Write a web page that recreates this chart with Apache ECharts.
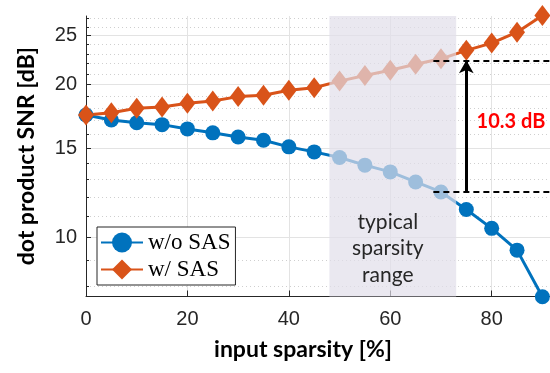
<!DOCTYPE html>
<html>
<head>
<meta charset="utf-8">
<script src="https://cdn.jsdelivr.net/npm/echarts@6/dist/echarts.min.js"></script>
<style>
  html, body { margin: 0; padding: 0; background: #fff; }
  #chart { width: 550px; height: 373px; }
</style>
</head>
<body>
<div id="chart"></div>
<script>
// input sparsity [%]
const sparsity = [0, 5, 10, 15, 20, 25, 30, 35, 40, 45, 50, 55, 60, 65, 70, 75, 80, 85, 90];
// dot product SNR [dB]
const snrWithoutSas = [17.42, 17.03, 16.82, 16.68, 16.36, 16.07, 15.77, 15.54, 15.08, 14.74,
  14.37, 13.88, 13.46, 12.86, 12.29, 11.35, 10.42, 9.44, 7.64];
const snrWithSas = [17.42, 17.6, 17.96, 18.07, 18.37, 18.57, 18.94, 19.05, 19.49, 19.72,
  20.32, 20.85, 21.34, 21.93, 22.48, 23.36, 24.14, 25.37, 27.37];

const xTicks = [0, 20, 40, 60, 80];
const yTicks = [10, 15, 20, 25];
const yMinorTicks = [8, 9, 11, 12, 13, 14, 16, 17, 18, 19, 21, 22, 23, 24, 26, 27];
const yRange = [7.65, 27.3];
const xRange = [0, 91.5];

const typicalRange = [48, 73];
const gapX = 75;
const gapLineStart = 68.5;
const gapTop = 22.33;
const gapBottom = 12.29;
const gapLabel = "10.3 dB";
const gapLabelAt = [83.8, 16.93];

const lg = Math.log10;
const axisColor = "#262626";

const chart = echarts.init(document.getElementById("chart"), null, { renderer: "canvas" });

// shaded "typical sparsity range", drawn over the lines so they look faded
function renderRange(params, api) {
  const p0 = api.coord([api.value(0), lg(yRange[1])]);
  const p1 = api.coord([api.value(1), lg(yRange[0])]);
  return {
    type: "group",
    children: [
      {
        type: "rect",
        shape: { x: p0[0], y: p0[1], width: p1[0] - p0[0], height: p1[1] - p0[1] },
        style: { fill: "rgba(225,222,234,0.7)" },
      },
      {
        type: "text",
        style: {
          text: "typical\nsparsity\nrange",
          x: (p0[0] + p1[0]) / 2 - 5,
          y: p1[1] - 8,
          align: "center",
          verticalAlign: "bottom",
          font: "21px Lato",
          lineHeight: 26.7,
          fill: axisColor,
        },
      },
    ],
  };
}

const option = {
  animation: false,
  backgroundColor: "#fff",
  grid: { left: 86, right: 0, top: 16, bottom: 76.5 },
  legend: {
    orient: "vertical",
    left: 97,
    top: 227,
    data: ["w/o SAS", "w/ SAS"],
    selectedMode: false,
    itemWidth: 42,
    itemHeight: 25,
    itemGap: 2,
    padding: [3, 5, 3, 3],
    borderColor: axisColor,
    borderWidth: 1,
    backgroundColor: "#fff",
    textStyle: { fontFamily: "Liberation Serif", fontSize: 23, color: "#000", lineHeight: 25 },
  },
  xAxis: {
    type: "value",
    min: xRange[0],
    max: xRange[1],
    name: "input sparsity [%]",
    nameLocation: "middle",
    nameGap: 42,
    nameTextStyle: {
      fontFamily: "Lato", fontWeight: "bold", fontSize: 23, color: "#000",
      padding: [0, 30, 0, 0],
    },
    axisLine: { lineStyle: { color: axisColor, width: 1 } },
    axisTick: { inside: true, length: 6, customValues: xTicks, lineStyle: { color: axisColor } },
    axisLabel: {
      customValues: xTicks, margin: 13,
      fontFamily: "Liberation Sans", fontSize: 20, color: axisColor,
    },
    splitLine: { show: true, lineStyle: { color: "#e3e3e3", width: 1 } },
  },
  yAxis: [
    {
      type: "value",
      min: lg(yRange[0]),
      max: lg(yRange[1]),
      name: "dot product SNR [dB]",
      nameLocation: "middle",
      nameGap: 48,
      nameTextStyle: { fontFamily: "Lato", fontWeight: "bold", fontSize: 23, color: "#000" },
      axisLine: { show: true, lineStyle: { color: axisColor, width: 1 } },
      axisTick: { inside: true, length: 5, customValues: yTicks.map(lg), lineStyle: { color: axisColor } },
      axisLabel: {
        customValues: yTicks.map(lg), margin: 9,
        formatter: (v) => String(Math.round(Math.pow(10, v))),
        fontFamily: "Liberation Sans", fontSize: 20, color: axisColor,
      },
      splitLine: { show: true, lineStyle: { color: "#e3e3e3", width: 1 } },
    },
    {
      type: "value",
      min: lg(yRange[0]),
      max: lg(yRange[1]),
      position: "left",
      axisLine: { show: false },
      axisTick: { show: true, inside: true, length: 3, customValues: yMinorTicks.map(lg), lineStyle: { color: axisColor } },
      axisLabel: { show: false },
      splitLine: { show: true, lineStyle: { color: "#cfcfcf", width: 1, type: [1, 3] } },
    },
  ],
  series: [
    {
      name: "w/o SAS",
      type: "line",
      z: 2,
      data: sparsity.map((x, i) => [x, lg(snrWithoutSas[i])]),
      symbol: "circle",
      symbolSize: 15,
      color: "#0072BD",
      lineStyle: { width: 3, color: "#0072BD" },
      itemStyle: { color: "#0072BD" },
      clip: false,
    },
    {
      name: "w/ SAS",
      type: "line",
      z: 2,
      data: sparsity.map((x, i) => [x, lg(snrWithSas[i])]),
      symbol: "diamond",
      symbolSize: [16, 21],
      color: "#D95319",
      lineStyle: { width: 3, color: "#D95319" },
      itemStyle: { color: "#D95319" },
      clip: false,
      markLine: {
        z: 5,
        silent: true,
        symbol: "none",
        label: { show: false },
        data: [
          [
            { coord: [gapLineStart, lg(gapTop)], lineStyle: { color: "#000", width: 2, type: [6, 4] } },
            { coord: [xRange[1], lg(gapTop)] },
          ],
          [
            { coord: [gapLineStart, lg(gapBottom)], lineStyle: { color: "#000", width: 2, type: [6, 4] } },
            { coord: [xRange[1], lg(gapBottom)] },
          ],
          [
            { coord: [gapX, lg(gapBottom)], symbol: "none", lineStyle: { color: "#000", width: 3, type: "solid" } },
            { coord: [gapX, lg(gapTop)], symbol: "arrow", symbolSize: [11, 13] },
          ],
        ],
      },
      markPoint: {
        z: 5,
        silent: true,
        symbol: "circle",
        symbolSize: 0,
        label: {
          show: true,
          position: "inside",
          formatter: gapLabel,
          fontFamily: "Lato",
          fontWeight: "bold",
          fontSize: 20,
          color: "#ff0000",
        },
        data: [{ coord: [gapLabelAt[0], lg(gapLabelAt[1])] }],
      },
    },
    {
      name: "range",
      type: "custom",
      z: 3,
      silent: true,
      clip: false,
      encode: { x: [0, 1] },
      data: [[typicalRange[0], typicalRange[1]]],
      renderItem: renderRange,
    },
  ],
};

chart.setOption(option);
</script>
</body>
</html>
